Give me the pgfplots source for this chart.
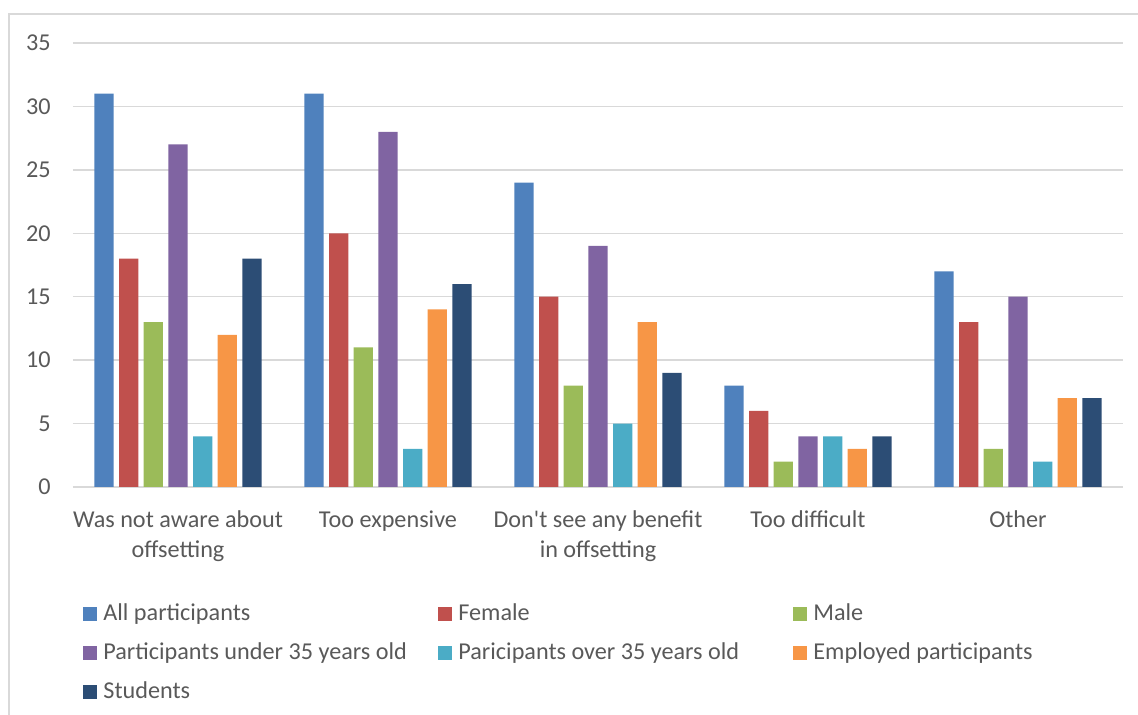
\documentclass[border=0pt]{standalone}
\usepackage{fontspec}
\setmainfont{Carlito}
\usepackage{pgfplots}
\pgfplotsset{compat=1.18}
\definecolor{c1}{HTML}{4F81BD}
\definecolor{c2}{HTML}{C0504D}
\definecolor{c3}{HTML}{9BBB59}
\definecolor{c4}{HTML}{8064A2}
\definecolor{c5}{HTML}{4BACC6}
\definecolor{c6}{HTML}{F79646}
\definecolor{c7}{HTML}{2C4D75}
\definecolor{gridc}{HTML}{D9D9D9}
\definecolor{txt}{HTML}{595959}
\begin{document}
\begin{tikzpicture}
\useasboundingbox (-36.5pt,-114pt) rectangle (532.5pt,243.5pt);
\draw[gridc, line width=0.6pt] (-32pt,-120pt) -- (-32pt,236.5pt) -- (540pt,236.5pt);
\begin{axis}[
  scale only axis,
  width=525pt, height=222pt,
  ymin=0, ymax=35, ytick={0,5,...,35},
  xmin=-0.5, xmax=4.5,
  xtick={0,1,2,3,4},
  xticklabels={{Was not aware about\\offsetting},{Too expensive},{Don\textquotesingle t see any benefit\\in offsetting},{Too difficult},{Other}},
  axis line style={draw=none},
  tick style={draw=none},
  ymajorgrids, major grid style={gridc, line width=0.75pt},
  ybar=2.68pt, bar width=9.65pt,
  /pgf/number format/assume math mode=true,
  tick label style={font=\fontsize{12.1}{15}\selectfont, text=txt},
  yticklabel style={inner sep=0pt, xshift=-11pt},
  xticklabel style={align=center, inner sep=0pt, yshift=-7.5pt},
  legend columns=3,
  legend style={at={(0,0)}, anchor=north west, xshift=5pt, yshift=-58pt, draw=none, fill=none, inner sep=0pt,
    font=\fontsize{12.1}{14}\selectfont, text=txt,
    nodes={inner sep=0pt, text height=8.5pt, text depth=2.5pt, anchor=west},
    row sep=8.5pt},
  legend cell align=left,
  legend image code/.code={\fill[#1] (0pt,-3.5pt) rectangle (7pt,3.5pt);},
]
\addplot[fill=c1, draw=none] coordinates {(0,31) (1,31) (2,24) (3,8) (4,17)};
\addlegendentry{\hspace{3pt}\makebox[167.5pt][l]{All participants}}
\addplot[fill=c2, draw=none] coordinates {(0,18) (1,20) (2,15) (3,6) (4,13)};
\addlegendentry{\hspace{3pt}\makebox[167.5pt][l]{Female}}
\addplot[fill=c3, draw=none] coordinates {(0,13) (1,11) (2,8) (3,2) (4,3)};
\addlegendentry{\hspace{3pt}Male}
\addplot[fill=c4, draw=none] coordinates {(0,27) (1,28) (2,19) (3,4) (4,15)};
\addlegendentry{\hspace{3pt}\makebox[167.5pt][l]{Participants under 35 years old}}
\addplot[fill=c5, draw=none] coordinates {(0,4) (1,3) (2,5) (3,4) (4,2)};
\addlegendentry{\hspace{3pt}\makebox[167.5pt][l]{Paricipants over 35 years old}}
\addplot[fill=c6, draw=none] coordinates {(0,12) (1,14) (2,13) (3,3) (4,7)};
\addlegendentry{\hspace{3pt}Employed participants}
\addplot[fill=c7, draw=none] coordinates {(0,18) (1,16) (2,9) (3,4) (4,7)};
\addlegendentry{\hspace{3pt}Students}
\end{axis}
\end{tikzpicture}
\end{document}
